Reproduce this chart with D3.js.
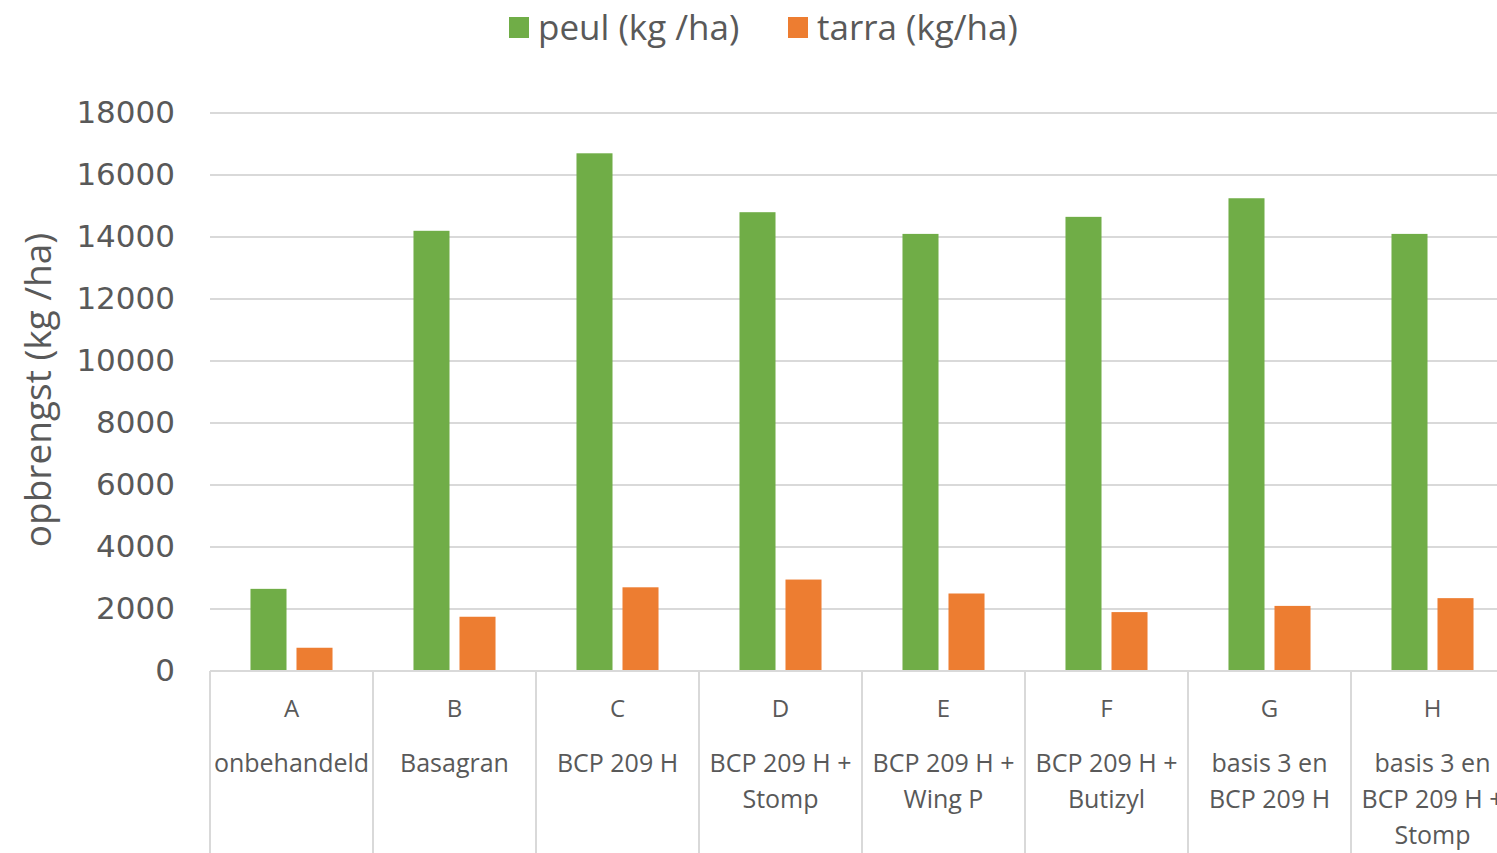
<!DOCTYPE html>
<html><head><meta charset="utf-8">
<script src="https://cdn.jsdelivr.net/npm/d3@7"></script>
<style>body{margin:0;background:#fff;overflow:hidden}svg{display:block}</style>
</head><body>
<svg id="c" width="1497" height="853"></svg>
<script>
const codes = ["A","B","C","D","E","F","G","H"];
const names = [["onbehandeld"],["Basagran"],["BCP 209 H"],["BCP 209 H +","Stomp"],["BCP 209 H +","Wing P"],["BCP 209 H +","Butizyl"],["basis 3 en","BCP 209 H"],["basis 3 en","BCP 209 H +","Stomp"]];
const peul  = [2650, 14200, 16700, 14800, 14100, 14650, 15250, 14100];
const tarra = [750, 1750, 2700, 2950, 2500, 1900, 2100, 2350];
const seriesNames = ["peul (kg /ha)", "tarra (kg/ha)"];
const colors = ["#70ad47", "#ed7d31"];
const yTicks = [0,2000,4000,6000,8000,10000,12000,14000,16000,18000];

(function(){
const svg = d3.select("#c");
const pL = 210, pR = 1514, pT = 113, pB = 671;
const txt = "#595959", grid = "#d9d9d9";

const y = d3.scaleLinear().domain([0,18000]).range([pB, pT]);
const x0 = d3.scaleBand().domain(codes).range([pL, pR]).padding(0);
const x1 = d3.scaleBand().domain(seriesNames).range([0, x0.bandwidth()]).paddingInner(0.217).paddingOuter(0.88);

svg.append("g").selectAll("line").data(yTicks.filter(d=>d>0)).join("line")
  .attr("x1", pL).attr("x2", 1497).attr("y1", d=>y(d)).attr("y2", d=>y(d))
  .attr("stroke", grid).attr("stroke-width", 2);

const ya = svg.append("g").attr("transform", `translate(${pL},0)`)
  .call(d3.axisLeft(y).tickValues(yTicks).tickSize(0).tickPadding(35).tickFormat(d3.format("d")));
ya.select(".domain").remove();
ya.selectAll("text").attr("font-family","DejaVu Sans").attr("font-size",31).attr("fill",txt);

const data = codes.map((c,i)=>({c, v:[peul[i], tarra[i]]}));
const g = svg.append("g").selectAll("g").data(data).join("g")
  .attr("transform", d=>`translate(${x0(d.c)},0)`);
g.selectAll("rect").data(d=>d.v.map((v,j)=>({k:seriesNames[j], v, j}))).join("rect")
  .attr("x", d=>x1(d.k)).attr("width", x1.bandwidth())
  .attr("y", d=>y(d.v)).attr("height", d=>y(0)-y(d.v))
  .attr("fill", d=>colors[d.j]);

svg.append("line").attr("x1",pL).attr("x2",1497).attr("y1",pB).attr("y2",pB)
  .attr("stroke",grid).attr("stroke-width",2);
svg.append("g").selectAll("line").data(codes.concat(["_end"])).join("line")
  .attr("x1", (d,i)=> pL + i*x0.step()).attr("x2", (d,i)=> pL + i*x0.step())
  .attr("y1", pB).attr("y2", 853).attr("stroke", grid).attr("stroke-width", 2);

const cl = svg.append("g").selectAll("g").data(codes).join("g")
  .attr("transform", d=>`translate(${x0(d)+x0.bandwidth()/2},0)`);
cl.append("text").attr("y", 717).attr("text-anchor","middle")
  .attr("font-family","Open Sans").attr("font-size",24).attr("fill",txt).text(d=>d);
cl.each(function(d,i){
  d3.select(this).selectAll("text.n").data(names[i]).join("text").attr("class","n")
    .attr("y",(t,k)=>772+k*36).attr("text-anchor","middle")
    .attr("font-family","Open Sans").attr("font-size",25).attr("fill",txt).text(t=>t);
});

svg.append("text").attr("transform","translate(51,390) rotate(-90)").attr("text-anchor","middle")
  .attr("font-family","Open Sans").attr("font-size",37).attr("fill",txt).text("opbrengst (kg /ha)");

const legX = [509, 788];
const lg = svg.append("g").selectAll("g").data(seriesNames).join("g")
  .attr("transform",(d,i)=>`translate(${legX[i]},0)`);
lg.append("rect").attr("x",0).attr("y",17).attr("width",20).attr("height",21).attr("fill",(d,i)=>colors[i]);
lg.append("text").attr("x",29).attr("y",40).attr("font-family","Open Sans").attr("font-size",35)
  .attr("fill",txt).text(d=>d);
})();
</script>
</body></html>
